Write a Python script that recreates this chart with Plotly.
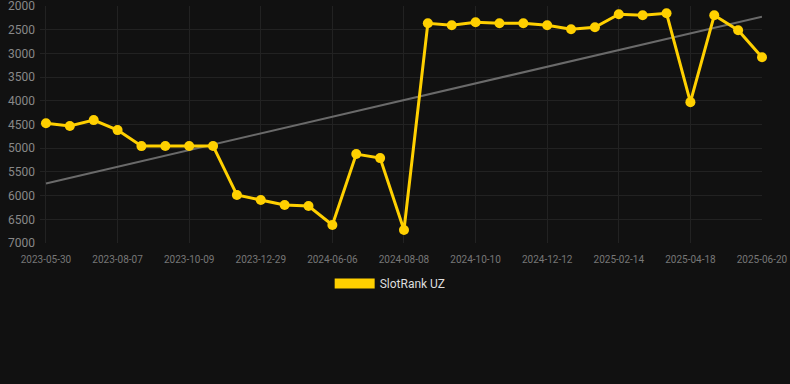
import plotly.graph_objects as go
import numpy as np

dates = ["2023-05-30", "2023-06-22", "2023-07-15", "2023-08-07", "2023-08-28", "2023-09-18",
         "2023-10-09", "2023-11-04", "2023-12-03", "2023-12-29", "2024-02-18", "2024-04-12",
         "2024-06-06", "2024-06-27", "2024-07-18", "2024-08-08", "2024-08-29", "2024-09-19",
         "2024-10-10", "2024-10-31", "2024-11-21", "2024-12-12", "2025-01-02", "2025-01-23",
         "2025-02-14", "2025-03-07", "2025-03-28", "2025-04-18", "2025-05-09", "2025-05-30",
         "2025-06-20"]
ranks = [4470, 4530, 4405, 4616, 4954, 4950, 4950, 4950, 5987, 6093, 6198, 6219,
         6620, 5122, 5207, 6726, 2359, 2400, 2338, 2359, 2359, 2400, 2485, 2443,
         2169, 2190, 2148, 4025, 2190, 2506, 3076]
tick_labels = dates[::3]
y_ticks = [2000, 2500, 3000, 3500, 4000, 4500, 5000, 5500, 6000, 6500, 7000]
series_name = "SlotRank UZ"

idx = np.arange(len(ranks))
coef = np.polyfit(idx, ranks, 1)
trend = np.polyval(coef, idx)

fig = go.Figure()
fig.add_trace(go.Scatter(x=dates, y=trend, mode="lines",
                         line=dict(color="#6a6a6a", width=2), showlegend=False,
                         hoverinfo="skip"))
fig.add_trace(go.Scatter(x=dates, y=ranks, mode="lines+markers", name=series_name,
                         line=dict(color="#FFD000", width=3),
                         marker=dict(size=10, color="#FFD000"),
                         cliponaxis=False, showlegend=False))
# legend-only entry drawn as a thick swatch
fig.add_trace(go.Scatter(x=[None], y=[None], mode="lines", name=series_name,
                         line=dict(color="#FFD000", width=12), showlegend=True))

fig.update_layout(
    width=790, height=384,
    paper_bgcolor="#111111", plot_bgcolor="#111111",
    margin=dict(l=40, r=28, t=6, b=141, autoexpand=False),
    font=dict(family="Roboto, Arial, sans-serif"),
    showlegend=True,
    legend=dict(orientation="h", x=0.485, xanchor="center", y=-0.11, yanchor="top",
                font=dict(color="#dddddd", size=12), itemwidth=40),
    xaxis=dict(type="category", range=[-0.25, 30], tickmode="array",
               tickvals=tick_labels, ticktext=tick_labels, automargin=False,
               showgrid=True, gridcolor="#222222", zeroline=False,
               tickfont=dict(color="#777777", size=10), showline=False, ticks="",
               ticklabelstandoff=9),
    yaxis=dict(range=[7000, 1995], tickvals=y_ticks, ticklabeloverflow="allow",
               automargin=False,
               showgrid=True, gridcolor="#222222", zeroline=False,
               tickfont=dict(color="#888888", size=12), ticklabelstandoff=4),
)

fig.write_html("out.html")
